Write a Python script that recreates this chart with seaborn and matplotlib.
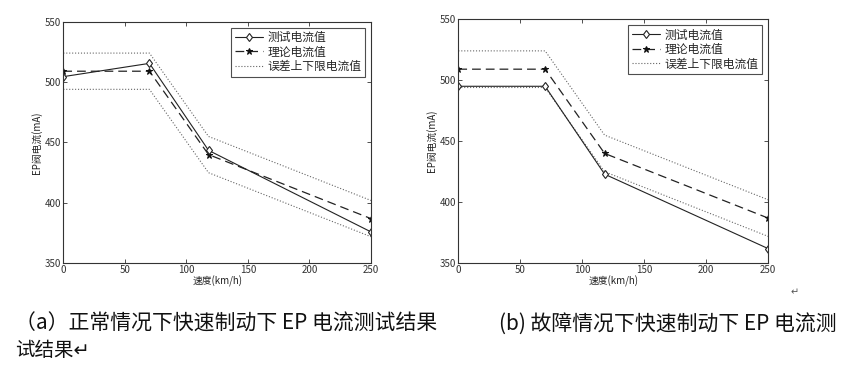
import matplotlib
matplotlib.use("Agg")
import matplotlib.pyplot as plt
import seaborn as sns
import pandas as pd

sns.set_theme(style="white")
plt.rcParams['font.family'] = ['Noto Sans CJK SC', 'DejaVu Sans']

speed = [0, 70, 118, 250]
test_a = [504.5, 515.5, 443.5, 376]
test_b = [495, 495, 423, 362]
theory = [509, 509, 440, 387]
upper = [524, 524, 455, 402]
lower = [494, 494, 425, 372]

xticks = [0, 50, 100, 150, 200, 250]
yticks = [350, 400, 450, 500, 550]
labels = ["测试电流值", "理论电流值", "误差上下限电流值"]
xlabel = "速度(km/h)"
ylabel = "EP阀电流(mA)"
cap_a = "（a）正常情况下快速制动下 EP 电流测试结果"
cap_a2 = "试结果↵"
cap_b = "(b) 故障情况下快速制动下 EP 电流测"

fig = plt.figure(figsize=(8.61, 3.65), dpi=100)
axA = fig.add_axes([0.0735, 0.2786, 0.3574, 0.662])
axB = fig.add_axes([0.5323, 0.2786, 0.360, 0.669])

for ax, test in [(axA, test_a), (axB, test_b)]:
    sns.lineplot(x=speed, y=upper, ax=ax, color="#666666", linestyle=":", linewidth=0.8)
    sns.lineplot(x=speed, y=lower, ax=ax, color="#666666", linestyle=":", linewidth=0.8)
    sns.lineplot(x=speed, y=theory, ax=ax, color="#222222", linestyle=(0, (7, 4)), linewidth=0.9,
                 marker="*", markersize=4.5, markerfacecolor="#111111", markeredgecolor="#111111")
    sns.lineplot(x=speed, y=test, ax=ax, color="#222222", linestyle="-", linewidth=0.8,
                 marker="d", markersize=4.5, markerfacecolor="white", markeredgecolor="#222222",
                 markeredgewidth=0.8)
    ax.set_xlim(0, 250)
    ax.set_ylim(350, 550)
    ax.set_xticks(xticks)
    ax.set_yticks(yticks)
    ax.tick_params(direction="in", length=3, width=0.6, labelsize=7, colors="#333333",
                   top=True, right=True, bottom=True, left=True, pad=1.5)
    for s in ax.spines.values():
        s.set_color("#333333")
        s.set_linewidth(0.8)
    ax.set_xlabel(xlabel, fontsize=7, labelpad=0, color="#222222")
    ax.set_ylabel(ylabel, fontsize=7, labelpad=2, color="#222222")
    lines = ax.get_lines()
    h = [lines[3], lines[2], lines[0]]
    leg = ax.legend(h, labels, loc="upper right", fontsize=8.5, frameon=True, fancybox=False,
                    handlelength=2.4, handletextpad=0.4, borderpad=0.3, labelspacing=0.12,
                    borderaxespad=0.5)
    leg.get_frame().set_edgecolor("#222222")
    leg.get_frame().set_linewidth(0.8)

fig.text(0.018, 0.112, cap_a, fontsize=15, color="#111111", va="center")
fig.text(0.018, 0.04, cap_a2, fontsize=14, color="#111111", va="center")
fig.text(0.58, 0.112, cap_b, fontsize=15, color="#111111", va="center")
fig.text(0.918, 0.2, "↵", fontsize=7, color="#555555", va="center")

fig.savefig("out.png", dpi=100)
